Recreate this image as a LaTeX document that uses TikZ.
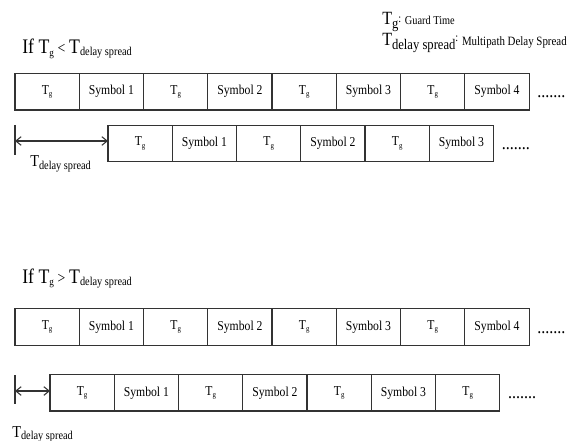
\documentclass[tikz,border=0pt]{standalone}
\usepackage{fontspec}
\setmainfont{Liberation Serif}[FakeStretch=0.86]
\usetikzlibrary{arrows.meta,calc}

% font size shortcut
\newcommand\sz[1]{\fontsize{#1}{#1}\selectfont}
% T with subscript g inside a cell
\newcommand\Tg{T\raisebox{-1.8pt}{\sz{6}g}}
% T_delay spread with given sizes and lowering
\newcommand\Tds[3]{{\sz{#1}T}\raisebox{-#3}{\sz{#2}delay spread}}

\begin{document}
\begin{tikzpicture}[x=0.75pt,y=-0.75pt,
  cell/.style={draw=black!80, line width=0.9pt, minimum width=48.2pt,
    minimum height=27.4pt, inner sep=0pt, outer sep=0pt, anchor=west,
    font=\sz{10.2}},
  dotsnode/.style={anchor=base west, inner sep=0pt, font=\sz{14}},
  txt/.style={anchor=base west, inner sep=0pt},
  tick/.style={draw=black!80, line width=0.9pt},
  span/.style={draw=black!80, line width=0.8pt,
    {Straight Barb[length=4pt,width=6.5pt]}-{Straight Barb[length=4pt,width=6.5pt]}}]

\useasboundingbox (0,0) rectangle (573,441);

% legend
\node[txt] (leg1) at (382,25) {{\sz{14}T}\raisebox{-3pt}{\sz{11}g}\raisebox{2pt}{\sz{9}:}\;{\sz{9}Guard Time}};
\node[txt] (leg2) at (382,46) {\Tds{14}{11}{3pt}\raisebox{3pt}{\sz{9}:}\;{\sz{9.5}Multipath Delay Spread}};

% ---- case Tg < Tdelay spread ----
\node[txt] (h1) at (22,54) {{\sz{15.5}If T}\raisebox{-2pt}{\sz{8}g}\;{\sz{12}<}\;\Tds{15.5}{9}{1.5pt}};

\node[cell] (r1c1) at (15,91.75) {\Tg};
\foreach \t [count=\i from 2, remember=\i as \j (initially 1)] in
  {Symbol 1,\Tg,Symbol 2,\Tg,Symbol 3,\Tg,Symbol 4}
  \node[cell] (r1c\i) at (r1c\j.east) {\t};
\node[dotsnode] (d1) at ($(r1c8.east)+(8,6)$) {.......};

\node[cell] (r2c1) at (108,143.5) {\Tg};
\foreach \t [count=\i from 2, remember=\i as \j (initially 1)] in
  {Symbol 1,\Tg,Symbol 2,\Tg,Symbol 3}
  \node[cell] (r2c\i) at (r2c\j.east) {\t};
\node[dotsnode] (d2) at ($(r2c6.east)+(8,6)$) {.......};

\coordinate (k1a) at (15,125);
\coordinate (k1b) at (15,155);
\coordinate (s1) at (15,141);
\draw[tick] (k1a) -- (k1b);
\draw[span] (s1) -- (s1 -| r2c1.west);
\node[txt] (l1) at (30,167) {\Tds{12.5}{9}{2pt}};

% ---- case Tg > Tdelay spread ----
\node[txt] (h2) at (22,283) {{\sz{15.5}If T}\raisebox{-2pt}{\sz{8}g}\;{\sz{12}>}\;\Tds{15.5}{9}{1.5pt}};

\node[cell] (r3c1) at (15,327) {\Tg};
\foreach \t [count=\i from 2, remember=\i as \j (initially 1)] in
  {Symbol 1,\Tg,Symbol 2,\Tg,Symbol 3,\Tg,Symbol 4}
  \node[cell] (r3c\i) at (r3c\j.east) {\t};
\node[dotsnode] (d3) at ($(r3c8.east)+(8,6)$) {.......};

\node[cell] (r4c1) at (50,392.75) {\Tg};
\foreach \t [count=\i from 2, remember=\i as \j (initially 1)] in
  {Symbol 1,\Tg,Symbol 2,\Tg,Symbol 3,\Tg}
  \node[cell] (r4c\i) at (r4c\j.east) {\t};
\node[dotsnode] (d4) at ($(r4c7.east)+(8,6)$) {.......};

\coordinate (k2a) at (15,375);
\coordinate (k2b) at (15,404);
\coordinate (s2) at (15,391);
\draw[tick] (k2a) -- (k2b);
\draw[span] (s2) -- (s2 -| r4c1.west);
\node[txt] (l2) at (12,437) {\Tds{12.5}{9}{2pt}};

\end{tikzpicture}
\end{document}
